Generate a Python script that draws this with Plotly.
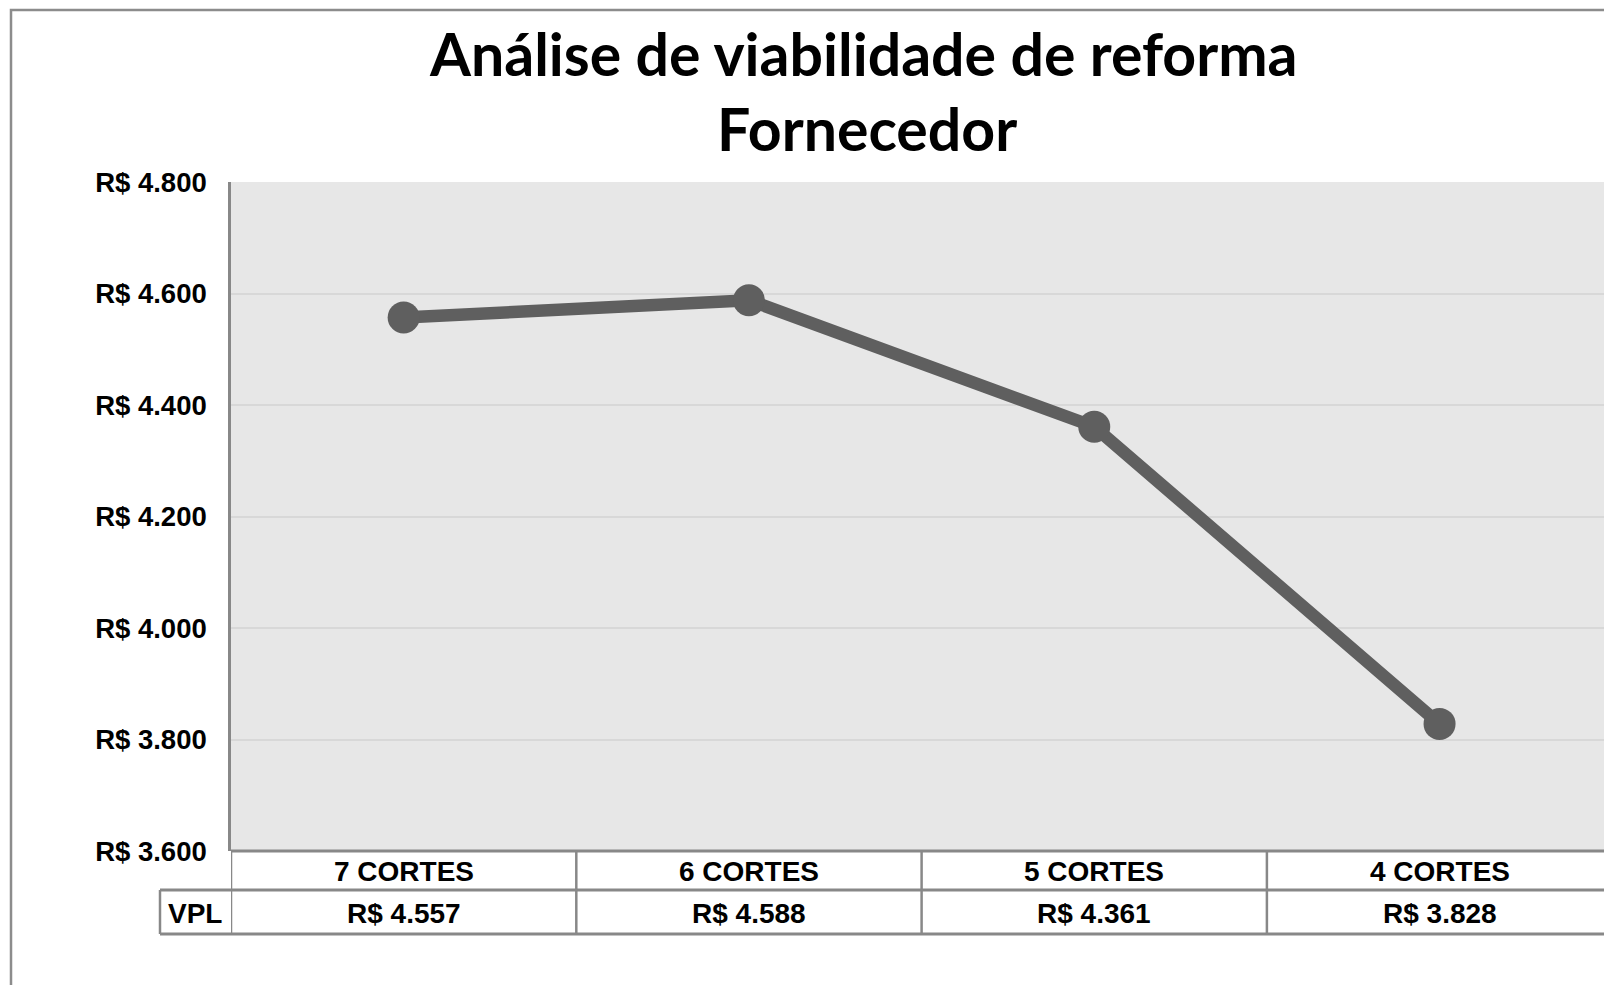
import plotly.graph_objects as go

categories = ["7 CORTES", "6 CORTES", "5 CORTES", "4 CORTES"]
vpl_values = [4557, 4588, 4361, 3828]
vpl_labels = ["R$ 4.557", "R$ 4.588", "R$ 4.361", "R$ 3.828"]
y_tick_values = [3600, 3800, 4000, 4200, 4400, 4600, 4800]
y_tick_labels = ["R$ 3.600", "R$ 3.800", "R$ 4.000", "R$ 4.200", "R$ 4.400", "R$ 4.600", "R$ 4.800"]
title_line1 = "Análise de viabilidade de reforma"
title_line2 = "Fornecedor"
row_label = "VPL"

W, H = 1604, 985
# plot area in page coordinates
PL, PT, PB = 231, 182, 851
L = PL
T = PT
B = H - PB
R = 0
PW = W - L - R
PH = H - T - B

def px_x(px):
    return (px - L) / PW

def px_y(py):
    return (PB - py) / PH

x_idx = list(range(len(categories)))

fig = go.Figure()
fig.add_trace(go.Scatter(
    x=x_idx, y=vpl_values, mode="lines+markers",
    line=dict(color="#5f5f5f", width=12.5),
    marker=dict(color="#5f5f5f", size=32),
    hoverinfo="skip", showlegend=False, cliponaxis=False,
))

grid = "#888888"
shapes = []
shapes.append(dict(type="rect", xref="paper", yref="paper",
                   x0=px_x(11), x1=px_x(W + 20), y0=px_y(H + 20), y1=px_y(10),
                   line=dict(color="#8c8c8c", width=2.5), fillcolor="rgba(0,0,0,0)", layer="below"))
for py, x0 in [(851, PL), (890, 160), (934, 160)]:
    shapes.append(dict(type="line", xref="paper", yref="paper",
                       x0=px_x(x0), x1=px_x(W + 20), y0=px_y(py), y1=px_y(py),
                       line=dict(color=grid, width=3)))
for xv in [-0.5, 0.5, 1.5, 2.5, 3.5]:
    shapes.append(dict(type="line", xref="x", yref="paper",
                       x0=xv, x1=xv, y0=px_y(851), y1=px_y(934),
                       line=dict(color=grid, width=2.5)))
shapes.append(dict(type="line", xref="paper", yref="paper",
                   x0=px_x(160), x1=px_x(160), y0=px_y(890), y1=px_y(934),
                   line=dict(color=grid, width=2.5)))

font_tbl = dict(family="Liberation Sans, Arial", size=28, color="#000000")
annotations = []
for i, (c, v) in enumerate(zip(categories, vpl_labels)):
    annotations.append(dict(x=i, y=px_y(871), xref="x", yref="paper", text="<b>%s</b>" % c,
                            showarrow=False, font=font_tbl, xanchor="center", yanchor="middle"))
    annotations.append(dict(x=i, y=px_y(913), xref="x", yref="paper", text="<b>%s</b>" % v,
                            showarrow=False, font=font_tbl, xanchor="center", yanchor="middle"))
annotations.append(dict(x=px_x(195), y=px_y(913), xref="paper", yref="paper", text="<b>%s</b>" % row_label,
                        showarrow=False, font=font_tbl, xanchor="center", yanchor="middle"))
font_title = dict(family="Lato, Open Sans", size=59, color="#000000")
annotations.append(dict(x=px_x(863), y=px_y(53), xref="paper", yref="paper", text="<b>%s</b>" % title_line1,
                        showarrow=False, font=font_title, xanchor="center", yanchor="middle"))
annotations.append(dict(x=px_x(867), y=px_y(128), xref="paper", yref="paper", text="<b>%s</b>" % title_line2,
                        showarrow=False, font=font_title, xanchor="center", yanchor="middle"))

fig.update_layout(
    width=W, height=H,
    margin=dict(l=L, r=R, t=T, b=B),
    paper_bgcolor="#ffffff", plot_bgcolor="#e7e7e7",
    shapes=shapes, annotations=annotations,
    xaxis=dict(range=[-0.5, -0.5 + PW / 345.3], showticklabels=False, showgrid=False,
               zeroline=False, showline=False, fixedrange=True),
    yaxis=dict(range=[3600, 4800], tickvals=y_tick_values, ticktext=["<b>%s</b>" % t for t in y_tick_labels],
               tickfont=dict(family="Liberation Sans, Arial", size=27.5, color="#000000"),
               showgrid=True, gridcolor="#d8d8d8", gridwidth=2, zeroline=False,
               showline=True, linecolor=grid, linewidth=2.5, ticks="", ticklabelstandoff=16,
               fixedrange=True),
)

fig.write_html("out.html", config={"displayModeBar": False},
               post_script="document.body.style.margin='0px';document.body.style.overflow='hidden';")
